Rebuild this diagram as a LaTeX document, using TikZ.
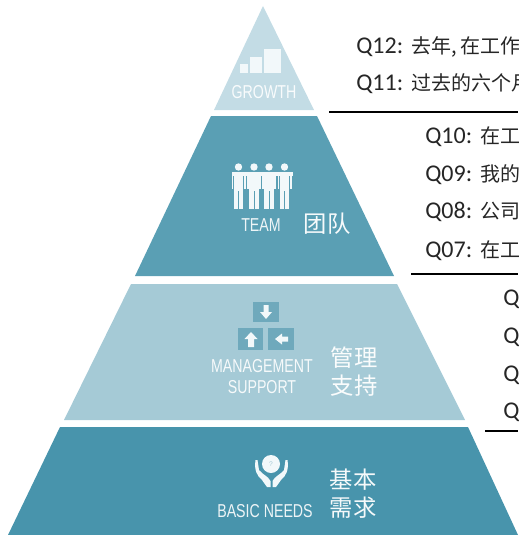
\documentclass[tikz,border=0pt]{standalone}
\usepackage{fontspec}
\setmainfont{Noto Sans CJK SC}
\newfontfamily\labelfont{Liberation Sans}
\newfontfamily\cjkfont{Noto Sans CJK SC}
\newfontfamily\qfont{Carlito}
\definecolor{growthc}{HTML}{C3DCE5}
\definecolor{teamc}{HTML}{5A9FB4}
\definecolor{mgmtc}{HTML}{A5CAD6}
\definecolor{basec}{HTML}{4894AC}
\definecolor{keyc}{HTML}{6FA9BC}
\definecolor{iconc}{HTML}{F2F8FA}
\newcommand{\qline}[2]{{\fontsize{18}{20}\qfont #1:}\hspace{6.5pt}{\fontsize{15}{18}\cjkfont #2}}
\newcommand{\narrowlab}[1]{\scalebox{0.76}[1]{\fontsize{14}{16}\labelfont #1}}
\tikzset{
  layer/.style={draw=none},
  qtext/.style={anchor=west,inner sep=0pt,text=black!85},
  qsolo/.style={anchor=west,inner sep=0pt,text=black!85,font=\fontsize{18}{20}\qfont},
  rulel/.style={line width=1.5pt,black},
  lab/.style={text=white,inner sep=0pt,opacity=0.9},
  cjklab/.style={text=white,inner sep=0pt,font=\fontsize{17.5}{20}\cjkfont,opacity=0.95},
  iconfill/.style={fill=iconc,draw=none},
  keybox/.style={fill=keyc,draw=none}
}
\begin{document}
\begin{tikzpicture}[x=0.75pt,y=-0.75pt]
\useasboundingbox (0,0) rectangle (518,535);
\clip (0,0) rectangle (518,535);
% layers
\fill[layer,growthc] (263,6) -- (314,110) -- (214,110) -- cycle;
\fill[layer,teamc] (211,116) -- (317,116) -- (394,276) -- (135,276) -- cycle;
\fill[layer,mgmtc] (131,284) -- (397,284) -- (465,420) -- (64,420) -- cycle;
\fill[layer,basec] (60,427) -- (468,427) -- (518,535) -- (8,535) -- cycle;
% growth icon
\fill[iconfill] (240,64) rectangle (248,73);
\fill[iconfill] (250,57) rectangle (262,73);
\fill[iconfill] (264,49) rectangle (281,73);
\node[lab] (growthlab) at (264,92) {\narrowlab{GROWTH}};
% team icon
\fill[iconfill] (233,172) rectangle (293,176);
\foreach \cx in {238.5,254,269,284.5}{
  \fill[iconfill] (\cx,167) circle (3.7);
  \fill[iconfill] (\cx-7,172) rectangle (\cx-5.4,189);
  \fill[iconfill] (\cx+5.4,172) rectangle (\cx+7,189);
  \fill[iconfill] (\cx-4.6,172) rectangle (\cx+4.6,191);
  \fill[iconfill] (\cx-4.6,191) rectangle (\cx-0.5,209);
  \fill[iconfill] (\cx+0.5,191) rectangle (\cx+4.6,209);
}
\node[lab] (teamlab) at (261,225) {\narrowlab{TEAM}};
\node[cjklab] (teamcn) at (327,224) {团队};
% management icon
\fill[keybox] (253,302) rectangle (279,322);
\fill[keybox] (238,328) rectangle (263,350);
\fill[keybox] (268,328) rectangle (294,350);
\fill[iconfill] (263.5,305) -- (268.5,305) -- (268.5,312) -- (272,312) -- (266,319) -- (260,312) -- (263.5,312) -- cycle;
\fill[iconfill] (248,347) -- (254,347) -- (254,339) -- (257.5,339) -- (251,332) -- (244.5,339) -- (248,339) -- cycle;
\fill[iconfill] (288,336.5) -- (282,336.5) -- (282,333.5) -- (275,339) -- (282,344.5) -- (282,341.5) -- (288,341.5) -- cycle;
\node[lab] (mgmtlab) at (262,366) {\narrowlab{MANAGEMENT}};
\node[lab] (supportlab) at (262,387) {\narrowlab{SUPPORT}};
\node[cjklab] (mgmtcn) at (354,358) {管理};
\node[cjklab] (supportcn) at (354,386) {支持};
% basic needs icon
\fill[iconfill] (271,464) circle (9);
\node[inner sep=0pt,text=mgmtc,font=\fontsize{5}{6}\labelfont] (qmark) at (271,464) {?};
\fill[iconfill] (255.5,460) .. controls (254,470) and (257,476) .. (262,480) -- (267,487) -- (270.5,487) -- (270.5,481) .. controls (268,476) and (263,475) .. (259,470) -- (257.5,460) -- cycle;
\fill[iconfill] (287.5,460) .. controls (289,470) and (286,476) .. (281,480) -- (276,487) -- (272.5,487) -- (272.5,481) .. controls (275,476) and (280,475) .. (284,470) -- (285.5,460) -- cycle;
\node[lab] (baselab) at (265,511) {\narrowlab{BASIC NEEDS}};
\node[cjklab] (basecn) at (353,480) {基本};
\node[cjklab] (needcn) at (353,508) {需求};
% rules
\coordinate (r1a) at (329,111.5); \coordinate (r1b) at (518,111.5);
\coordinate (r2a) at (411,273.5); \coordinate (r2b) at (518,273.5);
\coordinate (r3a) at (485,431); \coordinate (r3b) at (518,431);
\draw[rulel] (r1a) -- (r1b);
\draw[rulel] (r2a) -- (r2b);
\draw[rulel] (r3a) -- (r3b);
% questions
\node[qtext] (q12) at (356,47) {\qline{Q12}{去年,\,在工作}};
\node[qtext] (q11) at (356,84) {\qline{Q11}{过去的六个月}};
\node[qtext] (q10) at (425,137) {\qline{Q10}{在工}};
\node[qtext] (q09) at (425,175) {\qline{Q09}{我的}};
\node[qtext] (q08) at (425,212) {\qline{Q08}{公司}};
\node[qtext] (q07) at (425,251) {\qline{Q07}{在工}};
\node[qsolo] (q06) at (503,299) {Q};
\node[qsolo] (q05) at (503,337) {Q};
\node[qsolo] (q04) at (503,375) {Q};
\node[qsolo] (q03) at (503,412) {Q};
\end{tikzpicture}
\end{document}
